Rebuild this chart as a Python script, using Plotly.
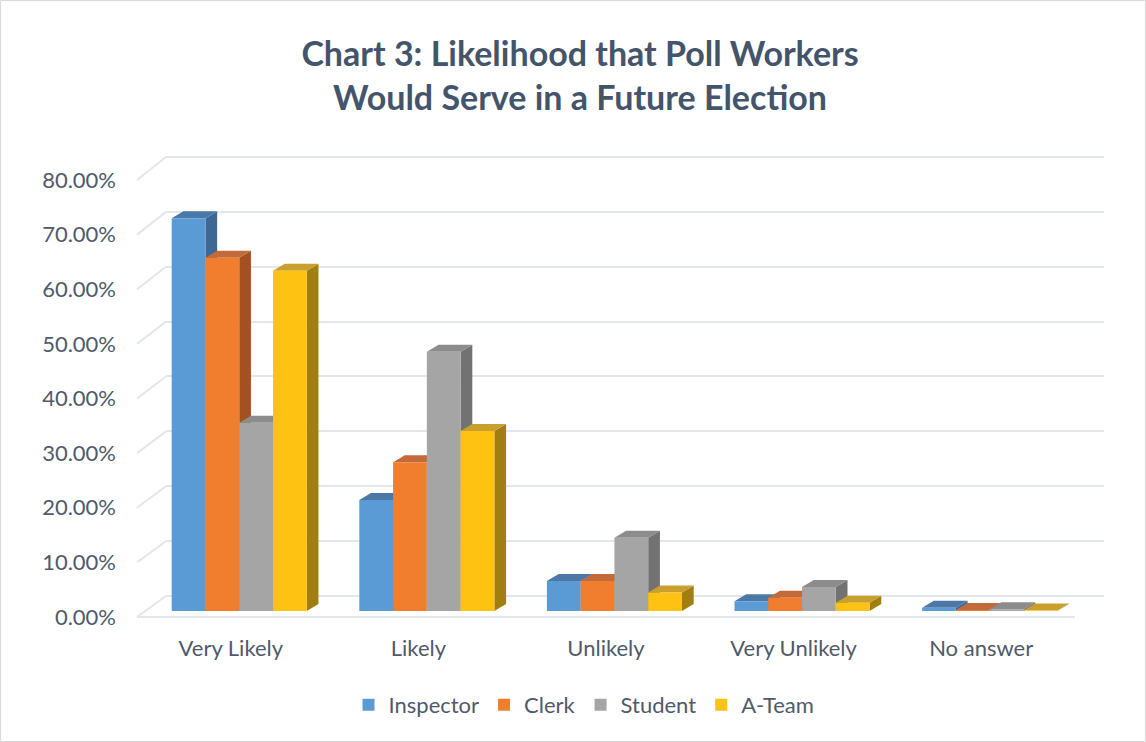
import plotly.graph_objects as go

W, H = 1146, 742

categories = ["Very Likely", "Likely", "Unlikely", "Very Unlikely", "No answer"]
series_names = ["Inspector", "Clerk", "Student", "A-Team"]
inspector = [0.718, 0.203, 0.055, 0.018, 0.006]
clerk = [0.646, 0.272, 0.055, 0.024, 0.002]
student = [0.344, 0.474, 0.134, 0.044, 0.003]
a_team = [0.622, 0.329, 0.034, 0.015, 0.001]
y_ticks = [0, 0.1, 0.2, 0.3, 0.4, 0.5, 0.6, 0.7, 0.8]

values = [inspector, clerk, student, a_team]
front_colors = ["#5B9BD5", "#F17E2E", "#A5A5A5", "#FDC212"]
top_colors = ["#4C78A8", "#C36A3A", "#8C8C8C", "#C9A02E"]
side_colors = ["#3F6794", "#A3521F", "#727272", "#A17E12"]

def xp(px):
    return px / W

def yp(py):
    return 1 - py / H

# pixel geometry
FRONT_L, FRONT_R = 137, 1075
BACK_L, BACK_R = 166, 1104
FRONT_Y0, FRONT_Y80 = 617, 180
BACK_Y0, BACK_Y80 = 596, 157
BAR_Y0 = 611
BAR_SCALE = 5.47  # px per percent

def back_py(v):
    return BACK_Y0 - v / 0.8 * (BACK_Y0 - BACK_Y80)

def front_py(v):
    return FRONT_Y0 - v / 0.8 * (FRONT_Y0 - FRONT_Y80)

fig = go.Figure()

# subplot 1 (x, y): back wall gridlines
fig.add_trace(go.Scatter(x=[None], y=[None], xaxis="x", yaxis="y", showlegend=False, hoverinfo="skip"))

# subplot 2 (x2, y2): bars
bar_w = 0.18
offsets = [-0.315, -0.135, 0.045, 0.225]
xs = list(range(len(categories)))
for i, (name, vals) in enumerate(zip(series_names, values)):
    fig.add_trace(go.Bar(
        x=xs, y=vals, name=name, xaxis="x2", yaxis="y2",
        width=bar_w, offset=offsets[i],
        marker=dict(color=front_colors[i], line=dict(width=0)),
        hoverinfo="skip",
    ))

# subplot 3 (x3, y3): y tick labels on the front plane
fig.add_trace(go.Scatter(x=[None], y=[None], xaxis="x3", yaxis="y3", showlegend=False, hoverinfo="skip"))

# 3D faces for each bar (data coordinates of the bar subplot)
cat_px = (FRONT_R - FRONT_L) / len(categories)
dx = 11.7 / cat_px
dy = 7.0 / BAR_SCALE / 100
shapes = []
for c in range(len(categories)):
    for i in range(len(series_names)):
        v = values[i][c]
        x0 = c + offsets[i]
        x1 = x0 + bar_w
        side = f"M {x1},0 L {x1 + dx},{dy} L {x1 + dx},{v + dy} L {x1},{v} Z"
        top = f"M {x0},{v} L {x1},{v} L {x1 + dx},{v + dy} L {x0 + dx},{v + dy} Z"
        shapes.append(dict(type="path", path=side, xref="x2", yref="y2",
                           fillcolor=side_colors[i], line=dict(width=0), layer="below"))
        shapes.append(dict(type="path", path=top, xref="x2", yref="y2",
                           fillcolor=top_colors[i], line=dict(width=0), layer="below"))

# left wall diagonal stubs and floor front edge (paper coordinates)
grid_col = "#E3E6EC"
for t in y_ticks:
    shapes.append(dict(type="line", xref="paper", yref="paper",
                       x0=xp(FRONT_L), y0=yp(front_py(t)), x1=xp(BACK_L), y1=yp(back_py(t)),
                       line=dict(color=grid_col, width=2), layer="below"))
shapes.append(dict(type="line", xref="paper", yref="paper",
                   x0=xp(FRONT_L), y0=yp(FRONT_Y0), x1=xp(FRONT_R), y1=yp(FRONT_Y0),
                   line=dict(color=grid_col, width=2), layer="below"))
# chart border
shapes.append(dict(type="rect", xref="paper", yref="paper", x0=0.0005, y0=0.0007, x1=0.9995, y1=0.9993,
                   line=dict(color="#D9D9D9", width=1), layer="below"))

text_col = "#4F5A6A"
font_family = "Lato, 'Open Sans', sans-serif"
ax_common = dict(automargin=False, fixedrange=True, zeroline=False, showline=False)

y_lo, y_hi = -0.02, 0.82

fig.update_layout(
    width=W, height=H,
    margin=dict(l=0, r=0, t=0, b=0, autoexpand=False),
    paper_bgcolor="white", plot_bgcolor="rgba(0,0,0,0)",
    font=dict(family=font_family, color=text_col, size=22),
    title=dict(
        text="<b>Chart 3: Likelihood that Poll Workers<br>Would Serve in a Future Election</b>",
        x=xp(580), xanchor="center", y=yp(66), yanchor="middle",
        font=dict(size=34, color="#44546A", family=font_family),
    ),
    barmode="overlay",
    showlegend=True,
    legend=dict(orientation="h", x=xp(584), xanchor="center", y=yp(705), yanchor="middle",
                font=dict(size=22, color=text_col), itemsizing="constant", itemwidth=30,
                tracegroupgap=0, bgcolor="rgba(0,0,0,0)"),
    xaxis=dict(domain=[xp(BACK_L), xp(BACK_R)], range=[-0.5, 4.5], anchor="y",
               showgrid=False, showticklabels=False, **ax_common),
    yaxis=dict(domain=[yp(back_py(y_lo)), yp(back_py(y_hi))], range=[y_lo, y_hi], anchor="x",
               tickvals=y_ticks, showgrid=True, gridcolor=grid_col, gridwidth=2,
               showticklabels=False, **ax_common),
    xaxis2=dict(domain=[xp(FRONT_L), xp(FRONT_R)], range=[-0.5, 4.5], anchor="y2",
                tickvals=xs, ticktext=categories, showgrid=False,
                ticks="", ticklabelstandoff=22, tickfont=dict(size=22, color=text_col), **ax_common),
    yaxis2=dict(domain=[yp(BAR_Y0), yp(BAR_Y0 - 80 * BAR_SCALE)], range=[0, 0.8], anchor="x2",
                showgrid=False, showticklabels=False, **ax_common),
    xaxis3=dict(domain=[xp(FRONT_L), xp(FRONT_R)], range=[0, 1], anchor="y3",
                showgrid=False, showticklabels=False, **ax_common),
    yaxis3=dict(domain=[yp(FRONT_Y0), yp(FRONT_Y80)], range=[0, 0.8], anchor="x3",
                tickvals=y_ticks, tickformat=".2%", showgrid=False,
                ticks="", ticklabelstandoff=20, tickfont=dict(size=22, color=text_col), **ax_common),
    shapes=shapes,
)

fig.write_html("out.html", config={"displayModeBar": False, "staticPlot": True},
               post_script="document.body.style.margin='0';document.body.style.overflow='hidden';")
